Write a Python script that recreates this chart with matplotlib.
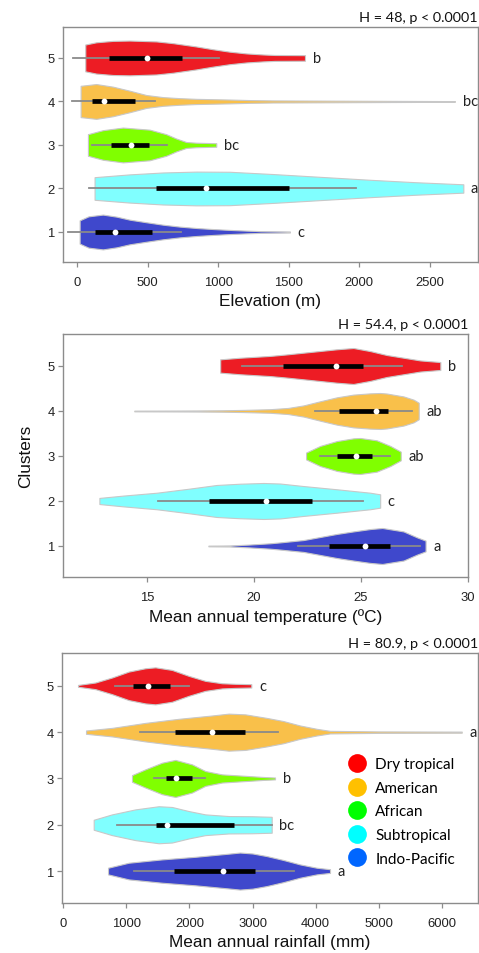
import matplotlib
matplotlib.use("Agg")
import matplotlib.pyplot as plt
from matplotlib.lines import Line2D

# clusters 1..5, every list below is ordered by cluster
clusters = [1, 2, 3, 4, 5]
violin_colors = ['#3F48CC', '#80FFFF', '#80FF00', '#F9C04A', '#ED1C24']

# violin outlines: x positions and relative half widths
elev_x = [
    [17, 80, 182, 280, 371, 490, 608, 726, 844, 962, 1081, 1199, 1300, 1508],
    [123, 371, 608, 844, 1081, 1388, 1700, 2076, 2400, 2738],
    [76, 182, 324, 513, 631, 702, 773, 844, 986],
    [24, 135, 253, 371, 490, 608, 726, 844, 1081, 1222, 1390, 2000, 2678],
    [57, 135, 253, 371, 561, 679, 844, 962, 1081, 1199, 1317, 1400, 1615],
]
elev_w = [
    [0.67, 0.9, 1.0, 0.88, 0.71, 0.56, 0.42, 0.31, 0.23, 0.17, 0.12, 0.08, 0.05, 0.03],
    [0.65, 0.81, 0.92, 0.97, 0.96, 0.83, 0.68, 0.5, 0.36, 0.24],
    [0.62, 0.85, 1.0, 0.88, 0.62, 0.37, 0.17, 0.13, 0.1],
    [0.9, 1.0, 0.85, 0.62, 0.37, 0.25, 0.19, 0.15, 0.11, 0.08, 0.06, 0.04, 0.02],
    [0.77, 0.9, 0.98, 1.0, 0.95, 0.85, 0.66, 0.5, 0.36, 0.26, 0.2, 0.17, 0.16],
]
# whisker low, q1, median, q3, whisker high
elev_box = [
    [-66, 128, 270, 532, 738],
    [83, 556, 911, 1504, 1977],
    [107, 237, 378, 508, 638],
    [-38, 107, 187, 407, 551],
    [-30, 225, 494, 745, 1003],
]
elev_letters = ['c', 'a', 'bc', 'bc', 'b']

temp_x = [
    [17.88, 18.89, 19.8, 20.76, 21.23, 22.32, 23.88, 24.65, 25.43, 26.0, 26.99, 27.62, 28.02],
    [12.79, 13.91, 15.47, 17.02, 18.27, 19.36, 20.45, 21.23, 22.32, 23.88, 25.43, 25.9],
    [22.44, 23.1, 23.88, 24.65, 24.96, 25.74, 26.37, 26.86],
    [14.42, 16.0, 17.34, 18.5, 19.5, 20.76, 21.6, 22.32, 23.1, 23.88, 24.65, 25.43, 25.9, 26.21, 26.99, 27.46, 27.7],
    [18.43, 19.36, 20.76, 21.5, 22.32, 23.88, 24.65, 25.43, 26.21, 26.99, 27.77, 28.71],
]
temp_w = [
    [0.02, 0.03, 0.08, 0.15, 0.2, 0.33, 0.67, 0.81, 0.94, 1.0, 0.81, 0.48, 0.3],
    [0.17, 0.3, 0.46, 0.69, 0.89, 0.96, 1.0, 0.97, 0.83, 0.65, 0.46, 0.37],
    [0.19, 0.56, 0.83, 0.98, 1.0, 0.87, 0.56, 0.24],
    [0.02, 0.025, 0.03, 0.04, 0.06, 0.1, 0.17, 0.31, 0.54, 0.76, 0.91, 0.98, 1.0, 0.97, 0.81, 0.63, 0.46],
    [0.37, 0.46, 0.56, 0.64, 0.74, 0.93, 1.0, 0.83, 0.61, 0.46, 0.31, 0.22],
]
temp_box = [
    [22.05, 23.49, 25.17, 26.34, 27.77],
    [15.54, 17.93, 20.58, 22.74, 25.12],
    [23.1, 23.88, 24.77, 25.51, 26.34],
    [22.87, 23.96, 25.72, 26.25, 27.38],
    [19.44, 21.34, 23.83, 25.08, 26.9],
]
temp_letters = ['a', 'c', 'ab', 'ab', 'b']

rain_x = [
    [709, 1037, 1565, 2093, 2622, 2800, 3000, 3225, 3488, 3753, 4018, 4229],
    [482, 772, 1142, 1512, 1723, 1988, 2251, 2622, 2992, 3304],
    [1089, 1300, 1565, 1776, 2041, 2251, 2516, 2939, 3171, 3357],
    [360, 772, 1300, 1830, 2358, 2622, 2886, 3225, 3488, 3753, 4018, 4229, 5000, 6317],
    [233, 508, 772, 1037, 1300, 1459, 1723, 1988, 2251, 2516, 2727, 2981],
]
rain_w = [
    [0.18, 0.45, 0.63, 0.77, 0.94, 1.0, 0.95, 0.81, 0.6, 0.36, 0.18, 0.1],
    [0.27, 0.56, 0.83, 1.0, 0.96, 0.74, 0.56, 0.47, 0.46, 0.43],
    [0.18, 0.49, 0.85, 1.0, 0.76, 0.4, 0.22, 0.13, 0.08, 0.05],
    [0.09, 0.23, 0.5, 0.72, 0.9, 1.0, 0.96, 0.77, 0.6, 0.36, 0.18, 0.07, 0.04, 0.03],
    [0.05, 0.18, 0.45, 0.77, 0.95, 1.0, 0.86, 0.54, 0.27, 0.14, 0.11, 0.09],
]
rain_box = [
    [1116, 1750, 2532, 3035, 3658],
    [851, 1470, 1644, 2706, 3304],
    [1433, 1628, 1792, 2041, 2242],
    [1221, 1766, 2358, 2876, 3408],
    [825, 1105, 1343, 1687, 1988],
]
rain_letters = ['a', 'bc', 'b', 'a', 'c']

region_names = ['Dry tropical', 'American', 'African', 'Subtropical', 'Indo-Pacific']
region_colors = ['#FF0000', '#FFC000', '#00FF00', '#00FFFF', '#0066FF']

plt.rcParams['font.family'] = ['Liberation Sans', 'DejaVu Sans']
LABEL_FONT = ['Lato', 'DejaVu Sans']
FRAME = '#8c8c8c'


def draw_panel(ax, xs, ws, box, letters, xlim, xticks, xlabel, title):
    for c, x, w, b, lab, col in zip(clusters, xs, ws, box, letters, violin_colors):
        lo = [c - 0.4 * v for v in w]
        hi = [c + 0.4 * v for v in w]
        ax.fill_between(x, lo, hi, facecolor=col, edgecolor='#c8c8c8', lw=0.8, zorder=2)
        ax.plot([b[0], b[4]], [c, c], color='#8a8a8a', lw=1.3, zorder=3)
        ax.plot([b[1], b[3]], [c, c], color='black', lw=3.4, solid_capstyle='butt', zorder=4)
        ax.plot(b[2], c, 'o', color='white', ms=4.2, mec='none', zorder=5)
        ax.annotate(lab, (x[-1], c), xytext=(5.5, 0), textcoords='offset points',
                    va='center', ha='left', fontsize=10.5, family=LABEL_FONT, color='#222222')
    ax.set_xlim(xlim)
    ax.set_ylim(0.31, 5.71)
    ax.set_xticks(xticks)
    ax.set_yticks(clusters)
    ax.set_xlabel(xlabel, fontsize=12.4, labelpad=3.5, color='#111111')
    ax.set_title(title, loc='right', fontsize=10.4, pad=4, family=LABEL_FONT, color='#111111')
    for s in ax.spines.values():
        s.set_color(FRAME)
        s.set_linewidth(1.0)
    ax.tick_params(length=3.6, width=0.9, color=FRAME, labelsize=9.4, labelcolor='#222222')
    ax.tick_params(axis='x', pad=6.5)
    ax.tick_params(axis='y', pad=2.5)


fig = plt.figure(figsize=(4.79, 9.54), dpi=100)
ax1 = fig.add_axes([0.1315, 0.7243, 0.8664, 0.2463])
ax2 = fig.add_axes([0.1315, 0.3941, 0.8455, 0.2547])
ax3 = fig.add_axes([0.1294, 0.0524, 0.8685, 0.2621])

draw_panel(ax1, elev_x, elev_w, elev_box, elev_letters, (-101, 2842),
           [0, 500, 1000, 1500, 2000, 2500], 'Elevation (m)', 'H = 48, p < 0.0001')
draw_panel(ax2, temp_x, temp_w, temp_box, temp_letters, (11.09, 30.0),
           [15, 20, 25, 30], 'Mean annual temperature (ºC)', 'H = 54.4, p < 0.0001')
draw_panel(ax3, rain_x, rain_w, rain_box, rain_letters, (-21, 6575),
           [0, 1000, 2000, 3000, 4000, 5000, 6000], 'Mean annual rainfall (mm)', 'H = 80.9, p < 0.0001')
ax2.set_ylabel('Clusters', fontsize=12.4, labelpad=10, color='#111111')

handles = [Line2D([], [], marker='o', ls='', ms=13.5, color=c, mec='none') for c in region_colors]
leg = ax3.legend(handles, region_names, loc='center left', bbox_to_anchor=(0.672, 0.366),
                 frameon=False, borderaxespad=0, handlelength=1.2, handletextpad=0.6,
                 labelspacing=0.63, prop={'family': LABEL_FONT, 'size': 11})

fig.savefig('out.png', dpi=100)
